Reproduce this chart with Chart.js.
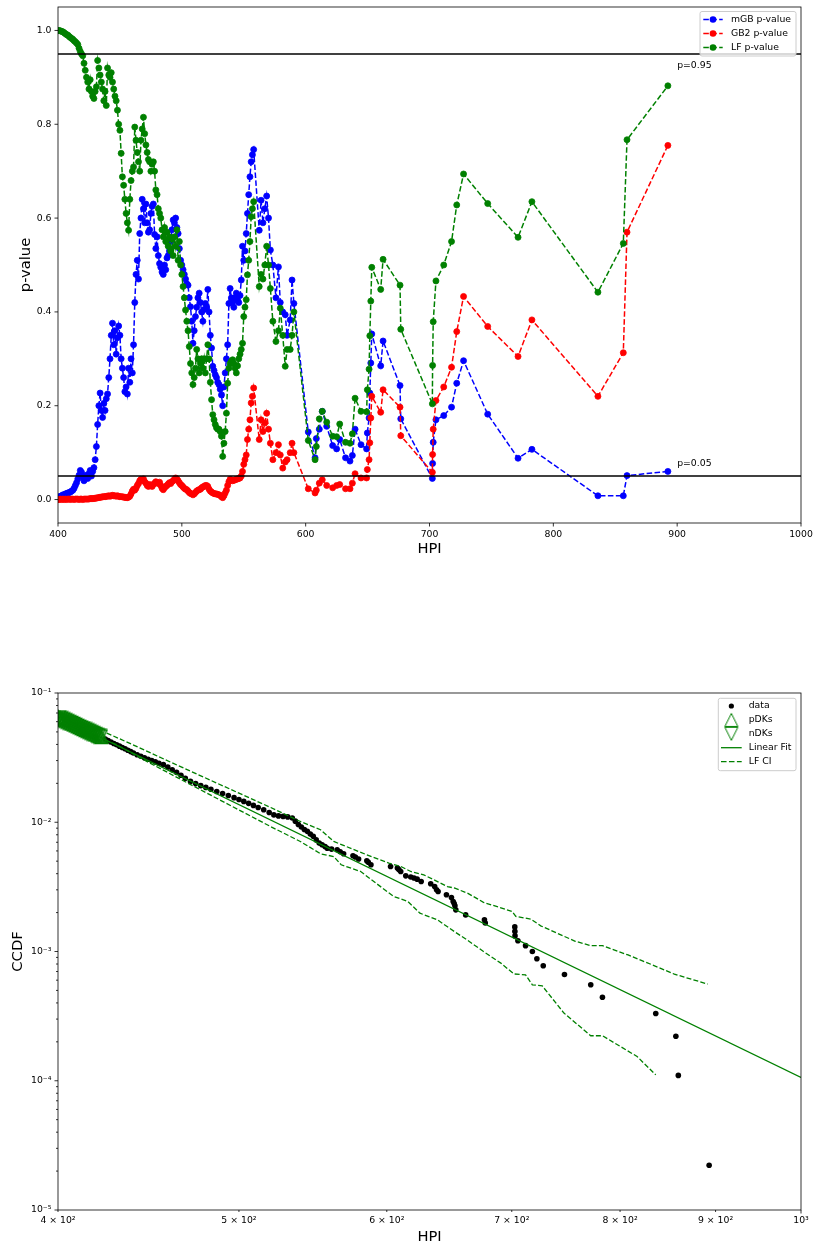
<!DOCTYPE html>
<html>
<head>
<meta charset="utf-8">
<script src="https://cdn.jsdelivr.net/npm/chart.js@4.4.1/dist/chart.umd.min.js"></script>
<style>
  html, body { margin: 0; padding: 0; background: #fff; }
  body { width: 815px; height: 1245px; position: relative; overflow: hidden; }
  canvas { position: absolute; left: 0; }
  #pvalChart { top: 0; }
  #ccdfChart { top: 640px; }
</style>
</head>
<body>
<canvas id="pvalChart" width="815" height="560"></canvas>
<canvas id="ccdfChart" width="815" height="605"></canvas>
<script>
// ---- top panel: p-values against the HPI threshold ----
const pvalHpi = [
  400, 401, 402, 403, 404, 405, 406, 407, 408, 409,
  410, 411, 412, 413, 414, 415, 416, 417, 418, 419,
  420, 421, 422, 423, 424, 425, 426, 427, 428, 429,
  430, 431, 432, 433, 434, 435, 436, 437, 438, 439,
  440, 441, 442, 443, 444, 445, 446, 447, 448, 449,
  450, 451, 452, 453, 454, 455, 456, 457, 458, 459,
  460, 461, 462, 463, 464, 465, 466, 467, 468, 469,
  470, 471, 472, 473, 474, 475, 476, 477, 478, 479,
  480, 481, 482, 483, 484, 485, 486, 487, 488, 489,
  490, 491, 492, 493, 494, 495, 496, 497, 498, 499,
  500, 501, 502, 503, 504, 505, 506, 507, 508, 509,
  510, 511, 512, 513, 514, 515, 516, 517, 518, 519,
  520, 521, 522, 523, 524, 525, 526, 527, 528, 529,
  530, 531, 532, 533, 534, 535, 536, 537, 538, 539,
  540, 541, 542, 543, 544, 545, 546, 547, 548, 549,
  550, 551, 552, 553, 554, 555, 556, 557, 558,
  562.5, 564, 565.5, 567, 568.5, 570, 571.5, 573.5, 576, 578,
  579.5, 581.5, 583.5, 585, 587.5, 589, 590.5,
  602.1, 607.6, 608.6, 611, 613.4, 617, 621.8, 625, 627.5, 632.2,
  635.8, 637.7, 639.9, 644.7, 649.2, 649.8, 651.2, 651.8, 652.6, 653.4,
  660.6, 662.5, 676.2, 676.8, 702.3, 702.5, 703, 705.2, 711.5, 717.8,
  722, 727.5, 747, 771.5, 782.7, 836, 856.5, 859.5, 892.5
];

const mgbP = [
  0.004, 0.006, 0.007, 0.008, 0.010, 0.010, 0.012, 0.013, 0.014, 0.015,
  0.016, 0.018, 0.020, 0.024, 0.030, 0.036, 0.044, 0.052, 0.062, 0.058,
  0.048, 0.040, 0.046, 0.052, 0.045, 0.055, 0.062, 0.050, 0.060, 0.068,
  0.085, 0.113, 0.160, 0.200, 0.227, 0.190, 0.175, 0.205, 0.190, 0.215,
  0.225, 0.260, 0.300, 0.350, 0.376, 0.330, 0.360, 0.310, 0.345, 0.370,
  0.350, 0.300, 0.280, 0.260, 0.230, 0.240, 0.225, 0.280, 0.250, 0.300,
  0.270, 0.330, 0.420, 0.480, 0.510, 0.470, 0.567, 0.600, 0.640, 0.620,
  0.590, 0.630, 0.590, 0.570, 0.575, 0.610, 0.625, 0.630, 0.565, 0.535,
  0.560, 0.520, 0.503, 0.495, 0.485, 0.480, 0.500, 0.490, 0.515, 0.520,
  0.530, 0.550, 0.575, 0.596, 0.590, 0.600, 0.580, 0.567, 0.535, 0.510,
  0.500, 0.490, 0.480, 0.470, 0.460, 0.457, 0.430, 0.411, 0.380, 0.333,
  0.360, 0.390, 0.410, 0.430, 0.440, 0.420, 0.400, 0.380, 0.405, 0.418,
  0.410, 0.448, 0.400, 0.350, 0.323, 0.284, 0.275, 0.266, 0.260, 0.250,
  0.245, 0.235, 0.223, 0.200, 0.240, 0.270, 0.300, 0.330, 0.418, 0.450,
  0.430, 0.420, 0.410, 0.430, 0.440, 0.425, 0.420, 0.435, 0.468, 0.540,
  0.510, 0.530, 0.567, 0.610, 0.650, 0.688, 0.720, 0.735, 0.746,
  0.574, 0.638, 0.590, 0.620, 0.647, 0.600, 0.532, 0.500, 0.430, 0.496,
  0.420, 0.400, 0.394, 0.350, 0.383, 0.468, 0.418,
  0.144, 0.089, 0.130, 0.150, 0.188, 0.156, 0.115, 0.108, 0.128, 0.089,
  0.082, 0.094, 0.150, 0.117, 0.108, 0.142, 0.174, 0.227, 0.291, 0.353,
  0.285, 0.338, 0.243, 0.172, 0.045, 0.077, 0.122, 0.170, 0.179, 0.197,
  0.248, 0.296, 0.182, 0.088, 0.107, 0.008, 0.008, 0.051, 0.060
];

const gb2P = [
  0.000, 0.000, 0.001, 0.000, 0.001, 0.000, 0.001, 0.000, 0.001, 0.001,
  0.000, 0.001, 0.001, 0.000, 0.001, 0.001, 0.001, 0.000, 0.001, 0.001,
  0.000, 0.001, 0.001, 0.001, 0.001, 0.001, 0.002, 0.002, 0.002, 0.002,
  0.003, 0.003, 0.004, 0.004, 0.005, 0.005, 0.006, 0.006, 0.006, 0.007,
  0.007, 0.008, 0.007, 0.008, 0.009, 0.008, 0.008, 0.007, 0.008, 0.007,
  0.006, 0.006, 0.006, 0.005, 0.005, 0.004, 0.004, 0.005, 0.007, 0.012,
  0.018, 0.022, 0.020, 0.024, 0.030, 0.034, 0.040, 0.043, 0.042, 0.044,
  0.038, 0.035, 0.030, 0.028, 0.032, 0.030, 0.028, 0.032, 0.035, 0.038,
  0.036, 0.034, 0.037, 0.030, 0.024, 0.021, 0.025, 0.028, 0.030, 0.033,
  0.036, 0.034, 0.038, 0.040, 0.043, 0.046, 0.044, 0.040, 0.036, 0.032,
  0.030, 0.027, 0.024, 0.022, 0.021, 0.018, 0.015, 0.013, 0.012, 0.010,
  0.012, 0.015, 0.018, 0.020, 0.021, 0.022, 0.025, 0.027, 0.028, 0.030,
  0.030, 0.028, 0.022, 0.018, 0.016, 0.014, 0.013, 0.012, 0.012, 0.011,
  0.010, 0.009, 0.006, 0.004, 0.008, 0.014, 0.020, 0.030, 0.038, 0.043,
  0.042, 0.040, 0.041, 0.042, 0.043, 0.044, 0.045, 0.046, 0.050, 0.060,
  0.075, 0.085, 0.095, 0.128, 0.150, 0.170, 0.206, 0.220, 0.238,
  0.128, 0.170, 0.145, 0.163, 0.184, 0.150, 0.120, 0.085, 0.100, 0.117,
  0.095, 0.067, 0.080, 0.085, 0.100, 0.120, 0.100,
  0.023, 0.014, 0.020, 0.035, 0.042, 0.030, 0.025, 0.030, 0.032, 0.023,
  0.023, 0.035, 0.055, 0.046, 0.046, 0.064, 0.085, 0.121, 0.174, 0.220,
  0.186, 0.234, 0.197, 0.136, 0.058, 0.096, 0.150, 0.211, 0.240, 0.282,
  0.358, 0.433, 0.369, 0.305, 0.383, 0.220, 0.313, 0.570, 0.755
];

const lfP = [
  1.000, 1.000, 0.999, 0.998, 0.997, 0.995, 0.993, 0.991, 0.990, 0.987,
  0.985, 0.983, 0.981, 0.978, 0.976, 0.973, 0.970, 0.962, 0.955, 0.950,
  0.946, 0.930, 0.915, 0.900, 0.890, 0.875, 0.895, 0.870, 0.860, 0.855,
  0.870, 0.880, 0.936, 0.920, 0.905, 0.890, 0.875, 0.850, 0.870, 0.840,
  0.920, 0.905, 0.900, 0.910, 0.890, 0.875, 0.860, 0.850, 0.830, 0.800,
  0.787, 0.738, 0.688, 0.670, 0.640, 0.610, 0.590, 0.574, 0.640, 0.680,
  0.700, 0.709, 0.794, 0.766, 0.740, 0.720, 0.700, 0.766, 0.790, 0.815,
  0.780, 0.756, 0.740, 0.725, 0.720, 0.700, 0.715, 0.720, 0.700, 0.660,
  0.650, 0.620, 0.610, 0.600, 0.575, 0.560, 0.580, 0.550, 0.570, 0.540,
  0.560, 0.530, 0.555, 0.520, 0.560, 0.540, 0.575, 0.510, 0.550, 0.500,
  0.480, 0.454, 0.430, 0.404, 0.380, 0.360, 0.326, 0.290, 0.270, 0.245,
  0.260, 0.280, 0.320, 0.300, 0.270, 0.290, 0.300, 0.280, 0.300, 0.270,
  0.300, 0.330, 0.300, 0.250, 0.213, 0.181, 0.170, 0.160, 0.153, 0.150,
  0.150, 0.145, 0.135, 0.092, 0.120, 0.145, 0.184, 0.248, 0.280, 0.290,
  0.295, 0.298, 0.290, 0.280, 0.270, 0.285, 0.300, 0.310, 0.320, 0.333,
  0.390, 0.410, 0.426, 0.479, 0.510, 0.550, 0.603, 0.620, 0.635,
  0.454, 0.480, 0.470, 0.500, 0.540, 0.500, 0.450, 0.380, 0.337, 0.360,
  0.408, 0.350, 0.284, 0.320, 0.320, 0.350, 0.400,
  0.126, 0.085, 0.113, 0.172, 0.188, 0.165, 0.135, 0.134, 0.161, 0.122,
  0.120, 0.140, 0.216, 0.188, 0.187, 0.234, 0.278, 0.349, 0.423, 0.495,
  0.448, 0.512, 0.457, 0.363, 0.204, 0.286, 0.379, 0.466, 0.500, 0.550,
  0.628, 0.694, 0.631, 0.559, 0.635, 0.442, 0.546, 0.767, 0.882
];

const pvalXTicks = [400, 500, 600, 700, 800, 900, 1000];
const pvalYTicks = [0.0, 0.2, 0.4, 0.6, 0.8, 1.0];
const pLevels = [0.95, 0.05];
const pLevelLabels = ['p=0.95', 'p=0.05'];

// ---- bottom panel: CCDF of HPI ----
const ccdfHpi = [
  424.0, 425.5, 427.0, 428.5, 430.0, 431.5, 433.0, 434.5, 436.0, 437.5,
  439.0, 441.0, 443.0, 445.0, 447.0, 449.0, 451.0, 453.0, 455.5, 458.0,
  460.5, 463.0, 465.5, 468.0, 471.0, 474.0, 477.0, 480.0, 483.0, 486.5,
  490.0, 493.5, 497.0, 500.0, 503.0, 506.0, 509.0, 512.0, 515.5, 519.0,
  522.0, 525.0, 528.0, 531.0, 534.0, 536.0, 538.0, 540.0, 542.0, 544.0,
  546.0, 548.0, 550.0, 552.0, 554.0, 556.0, 557.5,
  560.5, 564.4, 566.5, 568.9, 575.5, 577.2, 579.5, 585.4, 586.5, 588.4,
  602.8, 607.9, 609.0, 610.4, 614.2, 618.0, 620.5, 622.9, 626.0, 633.4,
  636.5, 638.0, 639.2, 645.8, 649.8, 651.2, 652.0, 652.6, 653.3, 661.3,
  676.8, 677.5, 702.6, 702.7, 702.8, 705.3, 712.0, 718.0, 722.0, 727.7,
  747.0, 771.6, 782.8, 836.0, 857.0, 859.6, 892.9
];
const ccdfValues = [
  0.0440, 0.0428, 0.0418, 0.0407, 0.0398, 0.0388, 0.0379, 0.0370, 0.0361, 0.0352,
  0.0343, 0.0333, 0.0324, 0.0315, 0.0307, 0.0300, 0.0293, 0.0286, 0.0279, 0.0267,
  0.0255, 0.0243, 0.0231, 0.0219, 0.0207, 0.0199, 0.0192, 0.0186, 0.0180, 0.0173,
  0.0167, 0.0161, 0.0155, 0.0150, 0.0145, 0.0140, 0.0135, 0.0130, 0.0125, 0.0119,
  0.0114, 0.0112, 0.0111, 0.0110, 0.0108, 0.0102, 0.0096, 0.0092, 0.0088, 0.0085,
  0.0081, 0.0078, 0.0073, 0.0069, 0.0067, 0.0065, 0.0063,
  0.0062, 0.00612, 0.0059, 0.0057, 0.0055, 0.00538, 0.0052, 0.00504, 0.0049, 0.00469,
  0.00455, 0.00442, 0.0043, 0.00416, 0.00385, 0.00377, 0.0037, 0.00363, 0.00348, 0.00334,
  0.00318, 0.0030, 0.00291, 0.00275, 0.00262, 0.00244, 0.00235, 0.00226, 0.00210, 0.00192,
  0.00176, 0.00166, 0.00155, 0.00143, 0.00132, 0.00121, 0.00111, 0.00100, 0.00088, 0.000775,
  0.000664, 0.000553, 0.000443, 0.000331, 0.000221, 0.000110, 0.0000222
];

const pdkHpi = [400, 401, 402, 403, 404, 405, 406, 407, 408, 409, 410, 411,
  412, 413, 414, 415, 416, 417, 418, 419, 420, 421, 422];
const pdkCcdf = [0.0652, 0.0641, 0.0631, 0.0620, 0.0610, 0.0600, 0.0590, 0.0581,
  0.0571, 0.0562, 0.0553, 0.0544, 0.0535, 0.0527, 0.0518, 0.0510, 0.0502, 0.0494,
  0.0486, 0.0479, 0.0471, 0.0464, 0.0457];
const ndkHpi = [400.5, 401.5, 402.5, 403.5, 404.5, 405.5, 406.5, 407.5, 408.5, 409.5,
  410.5, 411.5, 412.5, 413.5, 414.5, 415.5, 416.5, 417.5, 418.5, 419.5, 420.5, 421.5];
const ndkCcdf = [0.0646, 0.0636, 0.0625, 0.0615, 0.0605, 0.0595, 0.0586, 0.0576,
  0.0567, 0.0557, 0.0548, 0.0540, 0.0531, 0.0522, 0.0514, 0.0506, 0.0498, 0.0490,
  0.0482, 0.0475, 0.0468, 0.0461];

const fitHpi = [400, 1000];
const fitCcdf = [0.0655, 0.000106];

const ciUpHpi = [424.8, 440, 460, 486.5, 500, 520, 539.3, 552.9, 562, 585.4,
  601.5, 610.4, 618, 628, 646.6, 652, 662.8, 676, 700.3, 703.5,
  716.6, 725.4, 757, 771.6, 782.8, 808, 834.8, 855.4, 891.3];
const ciUp = [0.049, 0.039, 0.029, 0.0201, 0.0168, 0.0130, 0.01014, 0.00875, 0.0071, 0.0056,
  0.00483, 0.00455, 0.00416, 0.00392, 0.00318, 0.0031, 0.00283, 0.0024, 0.00204, 0.00187,
  0.00178, 0.00158, 0.0012, 0.00111, 0.00111, 0.00094, 0.000775, 0.000668, 0.00056];
const ciLoHpi = [424, 430, 448, 470, 500, 520, 539.3, 553, 562, 567.2,
  581, 592, 605, 615.7, 625, 638.6, 652, 662.4, 676, 690.6,
  702, 712, 718, 726.8, 746.5, 771.6, 782.8, 817, 836];
const ciLo = [0.0432, 0.0398, 0.0287, 0.0199, 0.01245, 0.00925, 0.0071, 0.0057, 0.00543, 0.00469,
  0.00416, 0.00338, 0.00267, 0.00244, 0.00198, 0.00176, 0.00143, 0.00123, 0.0010, 0.000813,
  0.00067, 0.00066, 0.000552, 0.000542, 0.000334, 0.000223, 0.000223, 0.000154, 0.000111];

const ccdfXTicks = [400, 500, 600, 700, 800, 900, 1000];
const ccdfXTickLabels = ['4 × 10²', '5 × 10²', '6 × 10²', '7 × 10²', '8 × 10²', '9 × 10²', '10³'];
const ccdfYTicks = [1e-5, 1e-4, 1e-3, 1e-2, 1e-1];
const ccdfYTickLabels = ['10⁻⁵', '10⁻⁴', '10⁻³', '10⁻²', '10⁻¹'];

const BLUE = '#0000ff', RED = '#ff0000', GREEN = '#008000';
const FONT = '"DejaVu Sans"';

Chart.defaults.font.family = 'DejaVu Sans';
Chart.defaults.font.size = 9.3;
Chart.defaults.color = '#000';
Chart.defaults.animation = false;

function pts(xs, ys) {
  return xs.map((x, i) => ({ x, y: ys[i] }));
}

function triangleMarker(up, lw) {
  const c = document.createElement('canvas');
  c.width = 16;
  c.height = 16;
  const g = c.getContext('2d');
  g.strokeStyle = GREEN;
  g.lineWidth = lw;
  g.beginPath();
  if (up) {
    g.moveTo(8, 1.5); g.lineTo(14.5, 14.5); g.lineTo(1.5, 14.5);
  } else {
    g.moveTo(8, 14.5); g.lineTo(14.5, 1.5); g.lineTo(1.5, 1.5);
  }
  g.closePath();
  g.stroke();
  return c;
}
const triUp = triangleMarker(true, 1.6);
const triDown = triangleMarker(false, 1.6);
const triUpKey = triangleMarker(true, 1);
const triDownKey = triangleMarker(false, 1);

// no extra label padding, so the layout padding alone fixes the plot box
function noPadX(s, h) { s.height = h; s.paddingLeft = 0; s.paddingRight = 0; }
function noPadY(s, w) { s.width = w; s.paddingTop = 0; s.paddingBottom = 0; }

// axes box, tick marks and axis titles, matplotlib style
const frameAndTicks = {
  id: 'frameAndTicks',
  afterDraw(chart, args, o) {
    const { ctx, chartArea: a, scales } = chart;
    ctx.save();
    ctx.strokeStyle = '#000';
    ctx.lineWidth = 0.8;
    ctx.strokeRect(a.left, a.top, a.right - a.left, a.bottom - a.top);
    ctx.beginPath();
    o.xMarks.forEach(([v, len]) => {
      const px = scales.x.getPixelForValue(v);
      ctx.moveTo(px, a.bottom);
      ctx.lineTo(px, a.bottom + len);
    });
    o.yMarks.forEach(([v, len]) => {
      const py = scales.y.getPixelForValue(v);
      ctx.moveTo(a.left, py);
      ctx.lineTo(a.left - len, py);
    });
    ctx.stroke();

    ctx.fillStyle = '#000';
    ctx.font = '14.7px ' + FONT;
    ctx.textAlign = 'center';
    ctx.textBaseline = 'middle';
    ctx.fillText(o.xTitle, (a.left + a.right) / 2, o.xTitleY);
    ctx.translate(o.yTitleX, (a.top + a.bottom) / 2);
    ctx.rotate(-Math.PI / 2);
    ctx.fillText(o.yTitle, 0, 0);
    ctx.restore();
  }
};

function drawSymbol(ctx, kind, color, x0, x1, y) {
  const cx = (x0 + x1) / 2;
  ctx.strokeStyle = color;
  ctx.fillStyle = color;
  if (kind === 'dashdot' || kind === 'dash' || kind === 'line') {
    ctx.lineWidth = kind === 'dashdot' ? 1.5 : 1.3;
    ctx.setLineDash(kind === 'line' ? [] : [5.55, 2.4]);
    ctx.beginPath();
    ctx.moveTo(x0, y);
    ctx.lineTo(x1, y);
    ctx.stroke();
    ctx.setLineDash([]);
  }
  if (kind === 'dashdot') {
    ctx.beginPath();
    ctx.arc(cx, y, 3.3, 0, Math.PI * 2);
    ctx.fill();
  } else if (kind === 'dot') {
    ctx.beginPath();
    ctx.arc(cx, y, 2.6, 0, Math.PI * 2);
    ctx.fill();
  } else if (kind === 'triUp') {
    ctx.drawImage(triUpKey, cx - 8, y - 8);
  } else if (kind === 'triDown') {
    ctx.drawImage(triDownKey, cx - 8, y - 8);
  }
}

const boxLegend = {
  id: 'boxLegend',
  afterDraw(chart, args, o) {
    const ctx = chart.ctx;
    ctx.save();
    ctx.fillStyle = 'rgba(255,255,255,0.8)';
    ctx.strokeStyle = '#cccccc';
    ctx.lineWidth = 1;
    ctx.beginPath();
    ctx.roundRect(o.box[0], o.box[1], o.box[2], o.box[3], 2);
    ctx.fill();
    ctx.stroke();
    o.items.forEach((it, i) => {
      const y = o.y0 + i * o.dy;
      drawSymbol(ctx, it.kind, it.color, o.sx0, o.sx1, y);
      ctx.fillStyle = '#000';
      ctx.font = '9.3px ' + FONT;
      ctx.textAlign = 'left';
      ctx.textBaseline = 'middle';
      ctx.fillText(it.text, o.tx, y);
    });
    ctx.restore();
  }
};

const thresholdLines = {
  id: 'thresholdLines',
  afterDatasetsDraw(chart) {
    const { ctx, chartArea: a, scales: { x, y } } = chart;
    ctx.save();
    ctx.strokeStyle = '#000';
    ctx.lineWidth = 1.5;
    pLevels.forEach(p => {
      const py = y.getPixelForValue(p);
      ctx.beginPath();
      ctx.moveTo(a.left, py);
      ctx.lineTo(a.right, py);
      ctx.stroke();
    });
    ctx.fillStyle = '#000';
    ctx.font = '9.3px ' + FONT;
    ctx.textAlign = 'left';
    ctx.textBaseline = 'middle';
    // labels sit just right of x=900, a little below / above their line
    ctx.fillText(pLevelLabels[0], x.getPixelForValue(900), y.getPixelForValue(pLevels[0]) + 11.5);
    ctx.fillText(pLevelLabels[1], x.getPixelForValue(900), y.getPixelForValue(pLevels[1]) - 12.5);
    ctx.restore();
  }
};

function pvalSeries(label, ys, color, order) {
  return {
    label,
    data: pts(pvalHpi, ys),
    showLine: true,
    borderColor: color,
    backgroundColor: color,
    borderWidth: 1.5,
    borderDash: [5.55, 2.4],
    pointRadius: 3,
    pointBorderWidth: 0.8,
    pointBackgroundColor: color,
    pointBorderColor: color,
    order
  };
}

new Chart(document.getElementById('pvalChart'), {
  type: 'scatter',
  data: {
    datasets: [
      pvalSeries('mGB p-value', mgbP, BLUE, 3),
      pvalSeries('GB2 p-value', gb2P, RED, 2),
      pvalSeries('LF p-value', lfP, GREEN, 1)
    ]
  },
  options: {
    responsive: false,
    animation: false,
    layout: { padding: { top: 7, right: 14, left: 0, bottom: 0 } },
    plugins: {
      legend: { display: false },
      tooltip: { enabled: false },
      frameAndTicks: {
        xMarks: pvalXTicks.map(v => [v, 3.5]),
        yMarks: pvalYTicks.map(v => [v, 3.5]),
        xTitle: 'HPI', xTitleY: 549,
        yTitle: 'p-value', yTitleX: 26
      },
      boxLegend: {
        box: [700, 11.5, 96, 44.5],
        y0: 19.5, dy: 14, sx0: 703.3, sx1: 722.7, tx: 731,
        items: [
          { kind: 'dashdot', color: BLUE, text: 'mGB p-value' },
          { kind: 'dashdot', color: RED, text: 'GB2 p-value' },
          { kind: 'dashdot', color: GREEN, text: 'LF p-value' }
        ]
      }
    },
    scales: {
      x: {
        type: 'linear', min: 400, max: 1000,
        grid: { display: false, drawTicks: false },
        border: { display: false },
        afterFit: s => noPadX(s, 37),
        afterBuildTicks: s => { s.ticks = pvalXTicks.map(v => ({ value: v })); },
        ticks: { padding: 6, maxRotation: 0, autoSkip: false, callback: v => String(v) }
      },
      y: {
        type: 'linear', min: -0.05, max: 1.05,
        grid: { display: false, drawTicks: false },
        border: { display: false },
        afterFit: s => noPadY(s, 58),
        afterBuildTicks: s => { s.ticks = pvalYTicks.map(v => ({ value: v })); },
        ticks: { padding: 6.5, autoSkip: false, callback: v => Number(v).toFixed(1) }
      }
    }
  },
  plugins: [thresholdLines, frameAndTicks, boxLegend]
});

const ccdfYMarks = [];
ccdfYTicks.forEach((d, i) => {
  ccdfYMarks.push([d, 3.5]);
  if (i < ccdfYTicks.length - 1) {
    for (let k = 2; k <= 9; k++) ccdfYMarks.push([d * k, 2]);
  }
});

new Chart(document.getElementById('ccdfChart'), {
  type: 'scatter',
  data: {
    datasets: [
      {
        label: 'data', data: pts(ccdfHpi, ccdfValues),
        pointRadius: 2.8, pointBorderWidth: 0,
        pointBackgroundColor: '#000', order: 6
      },
      {
        label: 'pDKs', data: pts(pdkHpi, pdkCcdf),
        pointStyle: triUp, pointRadius: 6, order: 5
      },
      {
        label: 'nDKs', data: pts(ndkHpi, ndkCcdf),
        pointStyle: triDown, pointRadius: 6, order: 4
      },
      {
        label: 'Linear Fit', data: pts(fitHpi, fitCcdf), showLine: true,
        borderColor: GREEN, borderWidth: 1.3, pointRadius: 0, order: 3
      },
      {
        label: 'LF CI', data: pts(ciUpHpi, ciUp), showLine: true,
        borderColor: GREEN, borderWidth: 1.3, borderDash: [5, 2.2], pointRadius: 0, order: 2
      },
      {
        label: 'LF CI lower', data: pts(ciLoHpi, ciLo), showLine: true,
        borderColor: GREEN, borderWidth: 1.3, borderDash: [5, 2.2], pointRadius: 0, order: 1
      }
    ]
  },
  options: {
    responsive: false,
    animation: false,
    layout: { padding: { top: 53, right: 14, left: 0, bottom: 0 } },
    plugins: {
      legend: { display: false },
      tooltip: { enabled: false },
      frameAndTicks: {
        xMarks: ccdfXTicks.map(v => [v, v === 1000 ? 3.5 : 2]),
        yMarks: ccdfYMarks,
        xTitle: 'HPI', xTitleY: 597,
        yTitle: 'CCDF', yTitleX: 18
      },
      boxLegend: {
        box: [718.3, 58.3, 77.7, 72.4],
        y0: 66, dy: 13.9, sx0: 721, sx1: 741.7, tx: 748.7,
        items: [
          { kind: 'dot', color: '#000', text: 'data' },
          { kind: 'triUp', color: GREEN, text: 'pDKs' },
          { kind: 'triDown', color: GREEN, text: 'nDKs' },
          { kind: 'line', color: GREEN, text: 'Linear Fit' },
          { kind: 'dash', color: GREEN, text: 'LF CI' }
        ]
      }
    },
    scales: {
      x: {
        type: 'logarithmic', min: 400, max: 1000,
        grid: { display: false, drawTicks: false },
        border: { display: false },
        afterFit: s => noPadX(s, 35),
        afterBuildTicks: s => { s.ticks = ccdfXTicks.map(v => ({ value: v })); },
        ticks: { padding: 5, maxRotation: 0, autoSkip: false, callback: (v, i) => ccdfXTickLabels[i] }
      },
      y: {
        type: 'logarithmic', min: 1e-5, max: 1e-1,
        grid: { display: false, drawTicks: false },
        border: { display: false },
        afterFit: s => noPadY(s, 58),
        afterBuildTicks: s => { s.ticks = ccdfYTicks.map(v => ({ value: v })); },
        ticks: { padding: 6.5, autoSkip: false, callback: (v, i) => ccdfYTickLabels[i] }
      }
    }
  },
  plugins: [frameAndTicks, boxLegend]
});
</script>
</body>
</html>
